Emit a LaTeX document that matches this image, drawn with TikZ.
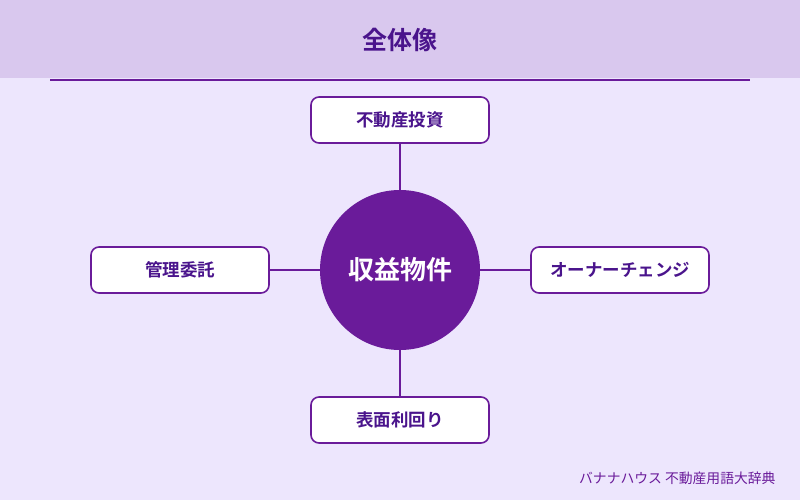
\documentclass[tikz,border=0pt]{standalone}
\usepackage{fontspec}
\newfontfamily\cjk{Noto Sans CJK JP}
\newfontfamily\cjkb{Noto Sans CJK JP Bold}
\definecolor{bg}{HTML}{EDE6FD}
\definecolor{band}{HTML}{D9C8EE}
\definecolor{pur}{HTML}{6A1B9A}
\definecolor{dpur}{HTML}{4A148C}
\tikzset{
  leaf/.style={draw=pur, line width=1.6pt, fill=white, rounded corners=8pt,
    minimum width=178pt, minimum height=46pt, font=\cjkb\fontsize{17.5}{20}\selectfont, text=dpur},
  link/.style={draw=pur, line width=1.5pt}
}
\begin{document}
\begin{tikzpicture}[x=1pt,y=-1pt]
\useasboundingbox (0,0) rectangle (800,500);
\fill[bg] (0,0) rectangle (800,500);
\fill[band] (0,0) rectangle (800,78);
\node[font=\cjkb\fontsize{25}{28}\selectfont, text=dpur] (title) at (400,40) {全体像};
\coordinate (la) at (50,80);
\coordinate (lb) at (750,80);
\draw[pur, line width=2pt] (la) -- (lb);
\node[circle, fill=pur, minimum size=160pt, inner sep=0pt, font=\cjkb\fontsize{26}{30}\selectfont, text=white] (c) at (400,270) {収益物件};
\node[leaf] (t) at (400,120) {不動産投資};
\node[leaf] (l) at (180,270) {管理委託};
\node[leaf] (r) at (620,270) {オーナーチェンジ};
\node[leaf] (b) at (400,420) {表面利回り};
\draw[link] (c) -- (t);
\draw[link] (c) -- (l);
\draw[link] (c) -- (r);
\draw[link] (c) -- (b);
\node[font=\cjk\fontsize{13.8}{16}\selectfont, text=pur, anchor=east] (f) at (779,478) {バナナハウス 不動産用語大辞典};
\end{tikzpicture}
\end{document}
